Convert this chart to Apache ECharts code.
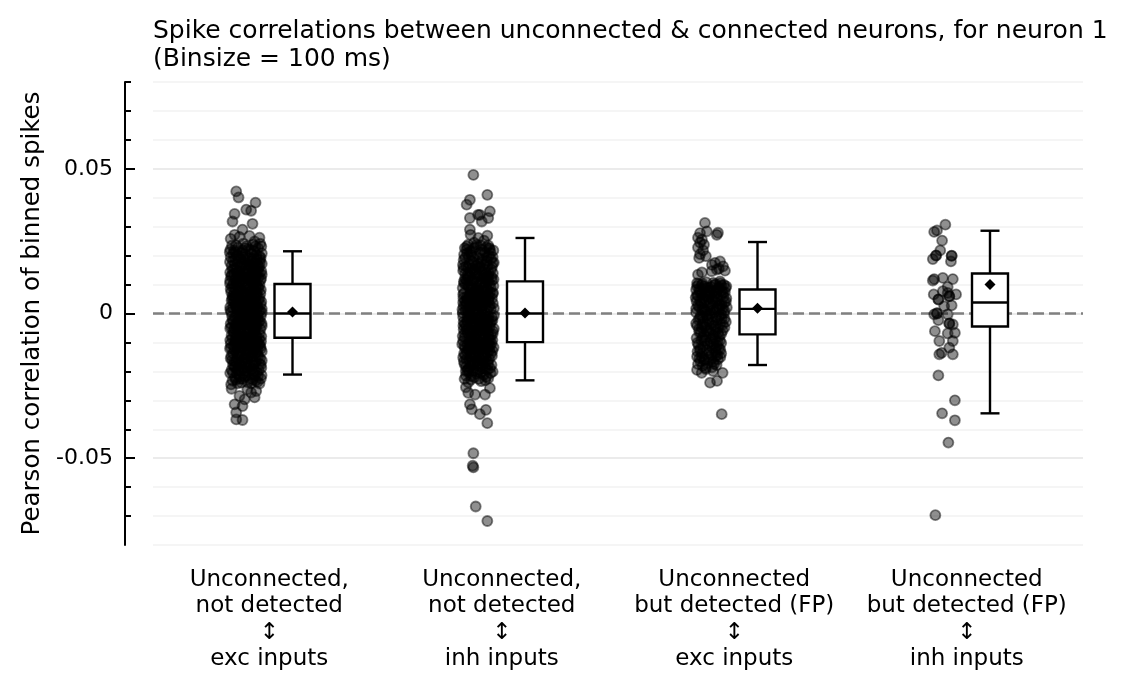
<!DOCTYPE html>
<html><head><meta charset="utf-8">
<script src="https://cdn.jsdelivr.net/npm/echarts@6/dist/echarts.min.js"></script>
<style>html,body{margin:0;padding:0;background:#fff}#c{width:1129px;height:691px}</style>
</head><body><div id="c"></div>
<script>
// ---------- text ----------
const titleText = 'Spike correlations between unconnected & connected neurons, for neuron 1\n(Binsize = 100 ms)';
const yAxisName = 'Pearson correlation of binned spikes';
const categories = [
  'Unconnected,\nnot detected\n\u2195\nexc inputs',
  'Unconnected,\nnot detected\n\u2195\ninh inputs',
  'Unconnected\nbut detected (FP)\n\u2195\nexc inputs',
  'Unconnected\nbut detected (FP)\n\u2195\ninh inputs'
];
const yMajorTicks = [-0.05, 0, 0.05];
const yMajorLabels = ['-0.05', '0', '0.05'];
const yMinorTicks = [-0.07, -0.06, -0.05, -0.04, -0.03, -0.02, -0.01, 0, 0.01, 0.02, 0.03, 0.04, 0.05, 0.06, 0.07, 0.08];

// ---------- box statistics (per category) ----------
const boxLow  = [-0.0211, -0.0231, -0.0178, -0.0345];
const boxQ1   = [-0.0084, -0.0099, -0.0072, -0.0045];
const boxMed  = [0.0000, 0.0000, 0.0016, 0.0038];
const boxQ3   = [0.0102, 0.0111, 0.0083, 0.0138];
const boxHigh = [0.0215, 0.0261, 0.0247, 0.0286];
const boxMean = [0.0005, 0.0002, 0.0018, 0.0100];

// ---------- individual points: [jitter (category units), correlation] ----------
const pointsExcNotDetected = [
  [-.06,.0235],[-.035,.0228],[-.012,.0241],[.01,.0222],[.03,.0238],[.052,.0226],[.066,.0232],[-.05,.0218],
  [-.066,.0195],[-.045,.0212],[-.025,.0188],[-.004,.0205],[.016,.0192],[.036,.0215],[.058,.0198],[-.056,.0182],[-.015,.0218],[.026,.0181],[.047,.0189],[.068,.0208],
  [-.062,.0165],[-.04,.0152],[-.02,.0172],[0,.0158],[.02,.0169],[.04,.0148],[.06,.0175],[-.068,.0142],[-.03,.0145],[-.008,.0178],[.012,.0141],[.032,.0162],[.052,.0155],[.066,.0146],
  [-.064,.0128],[-.046,.0118],[-.028,.0134],[-.01,.0112],[.008,.0126],[.026,.0105],[.044,.0131],[.062,.0115],[-.055,.0102],[-.036,.0122],[-.018,.0104],[.002,.0137],[.018,.0119],[.036,.0109],[.054,.0124],[.068,.0135],
  [-.066,.0085],[-.05,.0072],[-.034,.0094],[-.016,.0066],[0,.0088],[.016,.0075],[.032,.0097],[.048,.0064],[.064,.0082],[-.058,.0061],[-.042,.0098],[-.024,.0078],[-.006,.0063],[.01,.0092],[.026,.0069],[.042,.0087],[.058,.0099],
  [-.062,.0045],[-.046,.0027],[-.03,.0052],[-.014,.0021],[.002,.0048],[.018,.0033],[.034,.0057],[.05,.0024],[.066,.0041],[-.068,.0022],[-.052,.0058],[-.038,.0036],[-.022,.0031],[-.006,.0055],[.01,.0026],[.026,.0044],[.042,.0038],[.058,.0053],
  [-.064,.0005],[-.048,-.0012],[-.032,.0015],[-.016,-.0004],[0,.0011],[.016,-.0017],[.032,.0002],[.048,.0018],[.064,-.0009],[-.056,.0019],[-.04,-.0007],[-.024,.0008],[-.008,-.0015],[.008,.0003],[.024,.0014],[.04,-.0019],[.056,.0007],[.068,.0016],
  [-.066,-.0035],[-.05,-.0052],[-.034,-.0027],[-.018,-.0046],[-.002,-.0031],[.014,-.0057],[.03,-.0024],[.046,-.0041],[.062,-.0054],[-.058,-.0022],[-.042,-.0044],[-.026,-.0059],[-.01,-.0037],[.006,-.0049],[.022,-.0033],[.038,-.0058],[.054,-.0028],[.068,-.0043],
  [-.062,-.0075],[-.046,-.0088],[-.03,-.0064],[-.014,-.0095],[.002,-.0072],[.018,-.0084],[.034,-.0066],[.05,-.0098],[.066,-.0079],[-.068,-.0092],[-.054,-.0061],[-.038,-.0081],[-.022,-.0099],[-.006,-.0063],[.01,-.0094],[.026,-.0077],[.042,-.0089],
  [-.064,-.0118],[-.046,-.0105],[-.028,-.0132],[-.01,-.0112],[.008,-.0127],[.026,-.0102],[.044,-.0136],[.062,-.0114],[-.056,-.0138],[-.036,-.0121],[-.018,-.0104],[.002,-.0139],[.018,-.0116],[.036,-.0125],[.054,-.0108],[.068,-.0131],
  [-.066,-.0155],[-.044,-.0168],[-.022,-.0146],[0,-.0172],[.022,-.0151],[.044,-.0164],[.064,-.0177],[-.056,-.0178],[-.034,-.0142],[-.012,-.0161],[.01,-.0145],[.032,-.0179],[.054,-.0149],[.068,-.0162],
  [-.062,-.0195],[-.04,-.0208],[-.018,-.0186],[.004,-.0215],[.026,-.0192],[.048,-.0204],[.066,-.0188],[-.05,-.0184],[-.028,-.0218],[-.006,-.0199],[.016,-.0183],[.038,-.0212],
  [-.058,-.0232],[-.036,-.0241],[-.014,-.0226],[.008,-.0238],[.03,-.0229],[.05,-.0236],[-.064,-.0245],[.064,-.0225],
  [-.07,.0212],[-.038,.0201],[-.002,.0226],[.04,.0232],[.06,.0186],[-.048,.0171],[-.012,.0195],[.024,.0207],[.05,.0168],[-.058,.0152],[-.022,.0161],[.008,.0183],[.042,.0158],[.068,.0172],
  [-.052,.0136],[-.02,.0128],[.014,.0149],[.03,.0118],[.058,.0139],[-.068,.0114],[-.04,.0108],[-.004,.0124],[.022,.0133],[.046,.0101],
  [-.06,.0093],[-.03,.0081],[.004,.0096],[.036,.0079],[.062,.0068],[-.046,.0059],[-.012,.0072],[.02,.0061],[.05,.0091],[-.064,.0074],
  [-.054,.0041],[-.026,.0049],[.006,.0036],[.03,.0029],[.054,.0046],[-.04,.0016],[-.01,.0023],[.022,.0009],[.046,.0033],[.068,.0004],
  [-.06,-.0009],[-.028,-.0021],[.004,-.0011],[.036,-.0003],[.06,-.0026],[-.044,-.0038],[-.014,-.0029],[.018,-.0042],[.042,-.0049],[-.068,-.0051],
  [-.052,-.0068],[-.018,-.0073],[.014,-.0064],[.03,-.0091],[.058,-.0069],[-.034,-.0096],[-.002,-.0086],[.028,-.0058],[.046,-.0078],[-.066,-.0104],
  [-.05,-.0125],[-.014,-.0118],[.012,-.0108],[.04,-.0112],[.064,-.0122],[-.03,-.0143],[-.004,-.0152],[.024,-.0136],[.05,-.0141],[-.06,-.0161],
  [-.046,-.0185],[-.024,-.0171],[.006,-.0189],[.028,-.0166],[.058,-.0174],[-.036,-.0196],[-.01,-.0208],[.036,-.0198],[.052,-.0216],[-.068,-.0206],
  [-.048,-.0222],[-.02,-.0239],[.018,-.0226],[.042,-.0232],[-.004,-.0218],[.058,-.0242],
  [-.067,.0221],[-.043,.0236],[-.021,.0209],[.002,.0233],[.021,.0219],[.045,.0202],[.061,.0241],[-.031,.0199],[.033,.0191],[-.055,.0208],
  [-.069,.0178],[-.047,.0189],[-.027,.0164],[-.005,.0187],[.015,.0163],[.037,.0174],[.057,.0161],[-.035,.0176],[.005,.0171],[.063,.0193],
  [-.061,.0133],[-.039,.0141],[-.017,.0121],[.005,.0148],[.027,.0128],[.049,.0143],[.065,.0121],[-.049,.0154],[-.007,.0139],[.039,.0117],
  [-.069,.0104],[-.051,.0091],[-.029,.0107],[-.007,.0099],[.013,.0082],[.035,.0101],[.055,.0086],[-.039,.0067],[-.001,.0074],[.045,.0073],
  [-.059,.0052],[-.035,.0062],[-.019,.0043],[.003,.0064],[.023,.0052],[.041,.0059],[.063,.0031],[-.047,.0039],[-.009,.0034],[.033,.0042],
  [-.067,.0012],[-.043,.0028],[-.021,-.0001],[.001,.0021],[.019,.0004],[.037,.0026],[.061,.0009],[-.031,-.0012],[.011,-.0008],[.049,-.0006],
  [-.055,-.0027],[-.033,-.0041],[-.007,-.0022],[.013,-.0036],[.033,-.0047],[.051,-.0019],[.067,-.0034],[-.063,-.0047],[-.023,-.0052],[.041,-.0031],
  [-.059,-.0086],[-.041,-.0072],[-.025,-.0087],[-.009,-.0078],[.007,-.0083],[.021,-.0097],[.039,-.0074],[.057,-.0088],[-.047,-.0097],[.065,-.0096],
  [-.069,-.0121],[-.041,-.0134],[-.023,-.0115],[-.005,-.0125],[.015,-.0133],[.031,-.0119],[.049,-.0128],[.059,-.0106],[-.053,-.0112],[.003,-.0109],
  [-.063,-.0146],[-.039,-.0156],[-.017,-.0169],[.005,-.0158],[.027,-.0147],[.039,-.0171],[.061,-.0155],[-.027,-.0176],[.017,-.0174],[-.051,-.0166],
  [-.057,-.0205],[-.033,-.0191],[-.011,-.0191],[.011,-.0201],[.031,-.0209],[.055,-.0196],[.067,-.0213],[-.043,-.0228],[.023,-.0241],[-.025,-.0226],
  [-.042,.0422],[-.032,.0401],[.041,.0383],[-.049,.0344],[-.058,.0318],[.001,.0359],[.022,.0355],[.028,.031],[-.049,.0272],[-.015,.029],[.037,.0249],[-.028,.0265],[.015,.0268],[-.066,.0258],[.058,.0262],
  [-.028,-.0285],[.037,-.029],[.044,-.0268],[-.049,-.0314],[-.015,-.032],[-.042,-.0342],[-.042,-.0366],[-.015,-.0368],[-.006,-.0297],[.022,-.0273],[-.062,-.026],[.006,-.0262]
];
const pointsInhNotDetected = [
  [-.05,.0232],[-.03,.0215],[-.008,.0238],[.014,.0221],[.034,.0229],[.052,.0209],[-.062,.0204],[.064,.0218],
  [-.064,.0185],[-.042,.0196],[-.02,.0178],[.002,.0191],[.024,.0168],[.046,.0199],[.066,.0176],[-.054,.0163],[-.01,.0166],[.036,.0182],[.058,.0161],
  [-.066,.0148],[-.046,.0135],[-.026,.0157],[-.006,.0128],[.014,.0145],[.034,.0123],[.054,.0152],[-.058,.0121],[-.036,.0144],[-.016,.0139],[.004,.0158],[.024,.0132],[.044,.0141],
  [-.062,.0104],[-.042,.0093],[-.022,.0112],[-.002,.0087],[.018,.0106],[.038,.0084],[.058,.0115],[-.068,.0088],[-.052,.0117],[-.032,.0098],[-.012,.0081],[.008,.0096],[.028,.0118],[.048,.0101],
  [-.066,.0066],[-.048,.0051],[-.03,.0074],[-.012,.0045],[.006,.0062],[.024,.0078],[.042,.0047],[.06,.0069],[-.058,.0042],[-.04,.0061],[-.022,.0055],[-.004,.0079],[.014,.0043],[.032,.0058],[.05,.0073],
  [-.064,.0025],[-.046,.0008],[-.028,.0031],[-.01,.0014],[.008,.0037],[.026,.0004],[.044,.0022],[.062,.0035],[-.068,.0002],[-.052,.0038],[-.036,.0017],[-.018,.0039],[0,.0001],[.018,.0027],[.036,.0012],
  [-.066,-.0012],[-.048,-.0028],[-.03,-.0005],[-.012,-.0033],[.006,-.0016],[.024,-.0038],[.042,-.0009],[.06,-.0024],[-.058,-.0036],[-.04,-.0018],[-.022,-.0026],[-.004,-.0002],[.014,-.0029],[.032,-.0021],[.05,-.0035],[.066,-.0007],
  [-.064,-.0055],[-.046,-.0068],[-.028,-.0047],[-.01,-.0072],[.008,-.0058],[.026,-.0043],[.044,-.0077],[.062,-.0061],[-.068,-.0078],[-.054,-.0044],[-.036,-.0063],[-.018,-.0079],[0,-.0049],[.018,-.0066],[.036,-.0052],[.054,-.0074],
  [-.066,-.0095],[-.048,-.0108],[-.03,-.0086],[-.012,-.0113],[.006,-.0098],[.024,-.0084],[.042,-.0117],[.06,-.0092],[-.058,-.0119],[-.04,-.0101],[-.022,-.0091],[-.004,-.0118],[.014,-.0106],[.032,-.0097],[.05,-.0111],
  [-.062,-.0138],[-.042,-.0126],[-.022,-.0149],[-.002,-.0131],[.018,-.0155],[.038,-.0135],[.058,-.0146],[-.052,-.0158],[-.032,-.0122],[-.012,-.0152],[.008,-.0124],[.028,-.0144],[.048,-.0128],
  [-.06,-.0175],[-.038,-.0186],[-.016,-.0168],[.006,-.0194],[.028,-.0172],[.05,-.0189],[-.048,-.0198],[-.026,-.0163],[-.004,-.0181],[.018,-.0177],[.04,-.0165],
  [-.054,-.0215],[-.032,-.0228],[-.01,-.0208],[.012,-.0234],[.034,-.0219],[.052,-.0206],[-.044,-.0238],[.022,-.0212],
  [-.044,.0238],[-.018,.0226],[.006,.0211],[.042,.0235],[-.058,.0192],[-.03,.0203],[.012,.0176],[.036,.0195],[.054,.0188],[-.04,.0171],
  [-.064,.0158],[-.02,.0149],[.008,.0161],[.028,.0152],[.062,.0139],[-.046,.0124],[-.01,.0136],[.038,.0129],[.056,.0126],[-.028,.0115],
  [-.056,.0102],[-.034,.0083],[-.008,.0109],[.02,.0091],[.042,.0112],[.064,.0095],[-.062,.0071],[-.02,.0068],[.01,.0054],[.04,.0066],
  [-.05,.0058],[-.03,.0041],[-.002,.0061],[.026,.0049],[.058,.0052],[-.066,.0038],[-.04,.0024],[-.006,.0029],[.014,.0011],[.05,.0028],
  [-.056,.0009],[-.022,.0005],[.004,.0022],[.032,.0036],[.066,.0018],[-.046,-.0008],[-.016,-.0014],[.018,-.0005],[.038,-.0031],[.058,-.0013],
  [-.064,-.0029],[-.034,-.0039],[-.002,-.0024],[.026,-.0019],[.048,-.0046],[-.052,-.0058],[-.022,-.0054],[.01,-.0079],[.03,-.0063],[.066,-.0052],
  [-.06,-.0069],[-.04,-.0084],[-.008,-.0062],[.022,-.0091],[.044,-.0088],[-.07,-.0106],[-.034,-.0114],[-.014,-.0097],[.012,-.0121],[.056,-.0103],
  [-.05,-.0132],[-.026,-.0139],[.002,-.0147],[.034,-.0119],[.06,-.0129],[-.066,-.0152],[-.04,-.0161],[-.006,-.0163],[.022,-.0139],[.046,-.0157],
  [-.054,-.0184],[-.03,-.0179],[.002,-.0171],[.03,-.0191],[.056,-.0178],[-.04,-.0203],[-.018,-.0221],[.008,-.0205],[.042,-.0224],[-.06,-.0226],
  [-.059,.0226],[-.037,.0214],[-.013,.0229],[.009,.0236],[.027,.0212],[.047,.0226],[-.023,.0195],[.019,.0201],[.061,.0195],[-.049,.0207],
  [-.067,.0168],[-.045,.0159],[-.029,.0181],[-.003,.0172],[.017,.0185],[.039,.0164],[.061,.0174],[-.015,.0151],[.029,.0142],[-.057,.0138],
  [-.039,.0127],[-.019,.0118],[.001,.0133],[.021,.0121],[.043,.0128],[.065,.0118],[-.063,.0111],[-.047,.0099],[-.027,.0092],[.003,.0102],
  [.031,.0097],[.053,.0089],[-.015,.0072],[.017,.0077],[.047,.0058],[-.065,.0053],[-.035,.0064],[-.007,.0051],[.039,.0081],[.063,.0071],
  [-.055,.0027],[-.031,.0021],[-.013,.0032],[.011,.0025],[.029,.0041],[.053,.0014],[-.043,.0046],[.001,.0042],[.045,.0042],[-.069,.0014],
  [-.049,-.0021],[-.027,-.0016],[-.009,-.0041],[.013,-.0009],[.033,-.0011],[.055,-.0027],[-.065,-.0042],[.003,-.0036],[.043,-.0022],[-.037,-.0002],
  [-.043,-.0054],[-.025,-.0067],[-.003,-.0058],[.019,-.0051],[.041,-.0063],[.061,-.0071],[-.059,-.0083],[-.015,-.0088],[.027,-.0076],[.051,-.0091],
  [-.061,-.0112],[-.043,-.0121],[-.021,-.0108],[.003,-.0104],[.023,-.0113],[.045,-.0101],[.065,-.0117],[-.033,-.0094],[.037,-.0108],[-.009,-.0129],
  [-.057,-.0143],[-.035,-.0149],[-.015,-.0138],[.011,-.0161],[.031,-.0154],[.053,-.0139],[-.063,-.0166],[-.019,-.0171],[.041,-.0176],[.019,-.0166],
  [-.045,-.0192],[-.023,-.0198],[-.005,-.0201],[.015,-.0189],[.039,-.0194],[.061,-.0201],[-.031,-.0216],[.001,-.0226],[.029,-.0231],[-.055,-.0199],
  [-.022,.0479],[.038,.041],[-.051,.0376],[-.037,.0393],[.006,.0341],[.049,.0353],[.042,.033],[-.037,.033],[.014,.0318],[-.002,.0341],[-.037,.029],[-.034,.0272],[.038,.0269],[-.001,.0261],[.049,.0221],[-.051,.0221],[.024,.0252],[-.019,.0245],
  [-.044,-.0274],[-.015,-.028],[.028,-.028],[-.037,-.0314],[-.029,-.0331],[.006,-.0348],[.032,-.0333],[.038,-.0379],[-.022,-.0483],[-.025,-.0526],[-.022,-.0532],[-.012,-.0667],[.038,-.0717],[-.054,-.0255],[.049,-.0258]
];
const pointsExcDetectedFP = [
  [-.026,.0313],[-.047,.0278],[-.018,.0284],[.025,.0272],[.03,.0279],[-.056,.0262],[-.039,.0255],[-.047,.0245],[-.03,.0238],[-.056,.0228],[-.034,.0218],[-.047,.0205],[-.022,.0198],[-.051,.0192],[.039,.018],[.052,.0163],[.025,.0152],[-.056,.0134],[.003,.0146],[.039,.0111],[.017,.0175],[.004,.0168],[.034,.0155],[-.039,.0142],[.06,.0148],
  [-.06,.0105],[-.04,.0098],[-.02,.0108],[0,.0092],[.02,.0101],[.045,.0096],[.062,.0088],
  [-.064,.0082],[-.048,.0075],[-.028,.0086],[-.008,.0071],[.012,.0079],[.032,.0084],[.052,.0072],
  [-.056,.0062],[-.036,.0055],[-.016,.0066],[.004,.0051],[.024,.0059],[.044,.0064],[.066,.0053],
  [-.062,.0042],[-.042,.0035],[-.022,.0046],[-.002,.0032],[.018,.0041],[.038,.0029],[.058,.0038],
  [-.05,.0022],[-.03,.0015],[-.01,.0026],[.01,.0012],[.03,.0024],[.05,.0018],[.068,.0021],
  [-.064,.0004],[-.044,-.0006],[-.024,.0007],[-.004,-.0002],[.016,.0005],[.036,-.0008],[.056,.0001],
  [-.054,-.0021],[-.034,-.0028],[-.014,-.0018],[.006,-.0031],[.026,-.0024],[.046,-.0016],[.064,-.0029],
  [-.06,-.0042],[-.04,-.0049],[-.02,-.0038],[0,-.0052],[.02,-.0045],[.04,-.0036],[.058,-.0048],
  [-.05,-.0065],[-.03,-.0072],[-.01,-.0061],[.01,-.0076],[.03,-.0068],[.05,-.0059],
  [-.062,-.0085],[-.042,-.0092],[-.022,-.0081],[-.002,-.0098],[.018,-.0088],[.038,-.0095],
  [-.054,-.0108],[-.034,-.0115],[-.014,-.0104],[.006,-.0119],[.026,-.0111],[.044,-.0102],
  [-.058,-.0131],[-.038,-.0138],[-.018,-.0127],[.002,-.0142],[.022,-.0134],[.04,-.0125],
  [-.05,-.0155],[-.03,-.0162],[-.01,-.0151],[.01,-.0166],[.03,-.0158],
  [-.056,-.0175],[-.036,-.0181],[-.016,-.0172],[.004,-.0186],[.024,-.0178],
  [-.054,.0101],[-.03,.0094],[.01,.0106],[.034,.0091],[.056,.0099],[-.04,.0068],[-.004,.0078],[.02,.0069],[.06,.0074],[-.066,.0055],
  [-.03,.0039],[.008,.0044],[.046,.0031],[-.056,.0028],[-.016,.0011],[.024,.0016],[.058,.0009],[-.036,-.0012],[.004,-.0011],[.044,-.0004],
  [-.064,-.0034],[-.026,-.0046],[.012,-.0041],[.05,-.0038],[-.044,-.0066],[-.004,-.0069],[.036,-.0078],[-.058,-.0101],[-.028,-.0094],[.012,-.0105],
  [.034,-.0121],[-.046,-.0121],[-.008,-.0136],[.028,-.0144],[-.04,-.0149],[.002,-.0159],[.04,-.0151],[-.024,-.0188],[.014,-.0174],[-.046,-.0165],
  [-.06,.0094],[-.036,.0103],[-.012,.0089],[.014,.0098],[.04,.0104],[.066,.0094],[-.05,.0084],[-.018,.0077],[.026,.0081],[.046,.0078],
  [-.06,.0063],[-.026,.0061],[.014,.0058],[.054,.0057],[-.046,.0044],[-.012,.0048],[.028,.0047],[.064,.0041],[-.064,.0017],[-.038,.0012],
  [-.004,.0009],[.036,.0018],[-.048,-.0016],[-.018,-.0006],[.022,-.0014],[.058,-.0018],[-.036,-.0038],[-.008,-.0029],[.03,-.0051],[-.052,-.0054],
  [-.018,-.0061],[.018,-.0064],[.044,-.0071],[-.036,-.0083],[.004,-.0087],[.028,-.0099],[-.048,-.0127],[-.004,-.0112],[.018,-.0123],[-.028,-.0158],
  [.02,-.0148],[-.06,-.0149],[.044,-.0138],
  [-.04,-.0205],[.009,-.0199],[.05,-.0205],[-.004,-.0239],[.026,-.0233],[.046,-.0348],[-.022,-.0192],[-.06,-.0195]
];
const pointsInhDetectedFP = [
  [.008,.0307],[-.028,.0287],[-.04,.0282],[-.006,.0252],[-.014,.0218],[-.032,.02],[-.032,.0201],[-.046,.0188],[.035,.02],[.035,.0199],[.032,.018],
  [-.04,.0119],[-.003,.0123],[.04,.0119],[-.046,.0114],[.018,.0092],[-.042,.0066],[.018,.0071],[.054,.0066],
  [-.022,.0048],[-.022,.0049],[.025,.006],[.025,.0059],[-.003,.0077],[.035,.0028],[.003,.0025],
  [-.04,-.0003],[-.028,0],[-.028,.0001],[-.022,-.0023],[.018,-.0003],[.025,-.0034],[.025,-.0035],[.04,-.0038],
  [-.037,-.0061],[.018,-.0069],[.049,-.0067],[-.018,-.0095],[.04,-.0095],[.025,-.0118],[-.018,-.0141],[-.008,-.0136],[.04,-.0141],
  [-.022,-.0214],[.049,-.03],[-.006,-.0345],[.049,-.0369],[.021,-.0446],[-.035,-.0697]
];
const groupPoints = [pointsExcNotDetected, pointsInhNotDetected, pointsExcDetectedFP, pointsInhDetectedFP];

// ---------- layout constants ----------
const SCATTER_SHIFT = -0.1;   // scatter column left of category centre
const BOX_SHIFT = 0.1;        // box right of category centre
const FONT = 'DejaVu Sans';

const chart = echarts.init(document.getElementById('c'), null, {renderer: 'canvas'});

const scatterSeries = groupPoints.map((pts, gi) => ({
  type: 'scatter',
  xAxisIndex: 0, yAxisIndex: 0,
  z: 3,
  symbol: 'circle',
  symbolSize: 10,
  silent: true,
  large: false,
  progressive: 0,
  itemStyle: {color: 'rgba(0,0,0,0.55)', borderColor: 'rgba(0,0,0,0.6)', borderWidth: 1.8},
  data: pts.map(p => [gi + 1 + SCATTER_SHIFT + p[0], p[1]]),
  markLine: gi === 0 ? {
    silent: true, symbol: 'none', z: 1,
    label: {show: false},
    lineStyle: {color: '#808080', type: [11, 5], width: 2.5},
    data: [{yAxis: 0}]
  } : undefined
}));

const boxData = categories.map((c, i) => [i + 1 + BOX_SHIFT, boxLow[i], boxQ1[i], boxMed[i], boxQ3[i], boxHigh[i], boxMean[i]]);

const boxSeries = {
  type: 'custom',
  z: 4,
  silent: true,
  xAxisIndex: 0, yAxisIndex: 0,
  encode: {x: 0, y: [1, 2, 3, 4, 5, 6]},
  data: boxData,
  renderItem: function (params, api) {
    const x = api.value(0);
    const low = api.coord([x, api.value(1)]);
    const q1 = api.coord([x, api.value(2)]);
    const med = api.coord([x, api.value(3)]);
    const q3 = api.coord([x, api.value(4)]);
    const high = api.coord([x, api.value(5)]);
    const mean = api.coord([x, api.value(6)]);
    const hw = 18, cw = 9.5, d = 5.5;
    const ls = {stroke: '#000', lineWidth: 2.4, fill: null};
    return {
      type: 'group',
      children: [
        {type: 'line', shape: {x1: high[0], y1: high[1], x2: q3[0], y2: q3[1]}, style: ls},
        {type: 'line', shape: {x1: q1[0], y1: q1[1], x2: low[0], y2: low[1]}, style: ls},
        {type: 'line', shape: {x1: high[0] - cw, y1: high[1], x2: high[0] + cw, y2: high[1]}, style: ls},
        {type: 'line', shape: {x1: low[0] - cw, y1: low[1], x2: low[0] + cw, y2: low[1]}, style: ls},
        {type: 'rect', shape: {x: q3[0] - hw, y: q3[1], width: 2 * hw, height: q1[1] - q3[1]}, style: {fill: '#fff', stroke: '#000', lineWidth: 2.4}},
        {type: 'line', shape: {x1: med[0] - hw, y1: med[1], x2: med[0] + hw, y2: med[1]}, style: ls},
        {type: 'polygon', shape: {points: [[mean[0], mean[1] - d], [mean[0] + d, mean[1]], [mean[0], mean[1] + d], [mean[0] - d, mean[1]]]}, style: {fill: '#000'}}
      ]
    };
  }
};

const yBase = {type: 'value', min: -0.08, max: 0.08, position: 'left', offset: 28};

const option = {
  backgroundColor: '#fff',
  animation: false,
  title: {
    text: titleText,
    left: 148, top: 12,
    textStyle: {fontFamily: FONT, fontSize: 25, fontWeight: 'normal', color: '#000', lineHeight: 28}
  },
  grid: {left: 153, right: 46, top: 82, bottom: 146, containLabel: false, outerBoundsMode: 'none'},
  xAxis: {
    type: 'value', min: 0.5, max: 4.5,
    axisLine: {show: false}, axisTick: {show: false}, splitLine: {show: false},
    axisLabel: {
      customValues: [1, 2, 3, 4],
      formatter: v => categories[Math.round(v) - 1],
      fontFamily: FONT, fontSize: 23, lineHeight: 26.3, color: '#000', margin: 22, align: 'center'
    }
  },
  yAxis: [
    Object.assign({}, yBase, {
      interval: 0.01,
      axisLine: {show: true, lineStyle: {color: '#000', width: 2}},
      axisTick: {show: false},
      axisLabel: {show: false},
      splitLine: {show: true, lineStyle: {color: ['#f2f2f2', '#f2f2f2', '#f2f2f2', '#e4e4e4', '#f2f2f2'], width: 1.5}}
    }),
    Object.assign({}, yBase, {
      axisLine: {show: false},
      axisTick: {show: true, inside: true, length: 6, customValues: yMinorTicks, lineStyle: {color: '#000', width: 2}},
      axisLabel: {show: false},
      splitLine: {show: false}
    }),
    Object.assign({}, yBase, {
      name: yAxisName,
      nameLocation: 'middle',
      nameGap: 80,
      nameTextStyle: {fontFamily: FONT, fontSize: 24.5, color: '#000'},
      axisLine: {show: false},
      axisTick: {show: true, inside: true, length: 10, customValues: yMajorTicks, lineStyle: {color: '#000', width: 2}},
      axisLabel: {
        customValues: yMajorTicks,
        formatter: v => yMajorLabels[yMajorTicks.findIndex(t => Math.abs(t - v) < 1e-9)],
        fontFamily: FONT, fontSize: 22, color: '#000', margin: 12
      },
      splitLine: {show: false}
    })
  ],
  series: scatterSeries.concat([boxSeries])
};
chart.setOption(option);
</script>
</body></html>
